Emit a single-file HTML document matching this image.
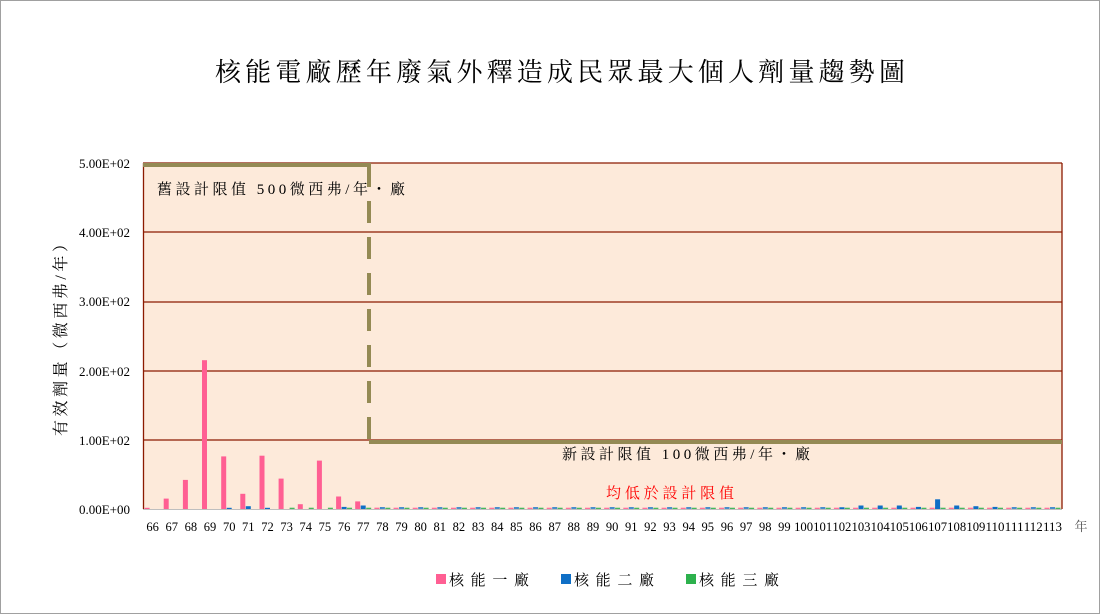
<!DOCTYPE html>
<html><head><meta charset="utf-8"><style>
html,body{margin:0;padding:0;background:#fff}
svg{display:block}
text{font-family:"Liberation Serif","Noto Serif CJK SC","Noto Serif CJK TC",serif}
</style></head><body>
<svg width="1100" height="614" viewBox="0 0 1100 614" xmlns="http://www.w3.org/2000/svg">
<rect x="0.5" y="0.5" width="1099" height="613" fill="#fff" stroke="#a0a0a0"/>
<text x="215" y="81" font-size="26" fill="#000" textLength="690" lengthAdjust="spacing">核能電廠歷年廢氣外釋造成民眾最大個人劑量趨勢圖</text>
<rect x="143" y="163" width="919" height="346" fill="#FDEADA"/>
<g stroke="#8B1A00" stroke-width="1.3">
<line x1="143" y1="440" x2="1062" y2="440"/>
<line x1="143" y1="371" x2="1062" y2="371"/>
<line x1="143" y1="302" x2="1062" y2="302"/>
<line x1="143" y1="232" x2="1062" y2="232"/>
<line x1="143" y1="163" x2="1062" y2="163"/>
<line x1="143.5" y1="163" x2="143.5" y2="509"/>
<line x1="1062" y1="163" x2="1062" y2="509"/>
</g>
<line x1="143" y1="509.5" x2="1062" y2="509.5" stroke="#bfbfbf"/>
<g fill="#FF5F93">
<rect x="144.6" y="507.8" width="5" height="1.2"/>
<rect x="163.7" y="498.6" width="5" height="10.4"/>
<rect x="182.9" y="479.9" width="5" height="29.1"/>
<rect x="202.0" y="360.2" width="5" height="148.8"/>
<rect x="221.2" y="456.4" width="5" height="52.6"/>
<rect x="240.3" y="493.8" width="5" height="15.2"/>
<rect x="259.5" y="455.7" width="5" height="53.3"/>
<rect x="278.6" y="478.6" width="5" height="30.4"/>
<rect x="297.8" y="504.2" width="5" height="4.8"/>
<rect x="316.9" y="460.6" width="5" height="48.4"/>
<rect x="336.1" y="496.5" width="5" height="12.5"/>
<rect x="355.2" y="501.4" width="5" height="7.6"/>
</g>
<line x1="379.9" y1="508.3" x2="1062" y2="508.3" stroke="#FF5F93" stroke-width="1.2" stroke-dasharray="5,14.146" transform="translate(-5.5,0)"/>
<g fill="#0F6FC6">
<rect x="226.7" y="507.8" width="5" height="1.2"/>
<rect x="245.8" y="506.2" width="5" height="2.8"/>
<rect x="265.0" y="507.8" width="5" height="1.2"/>
<rect x="341.6" y="506.9" width="5" height="2.1"/>
<rect x="360.7" y="505.5" width="5" height="3.5"/>
<rect x="839.4" y="507.6" width="5" height="1.4"/>
<rect x="858.5" y="505.5" width="5" height="3.5"/>
<rect x="877.7" y="505.5" width="5" height="3.5"/>
<rect x="896.8" y="505.5" width="5" height="3.5"/>
<rect x="915.9" y="506.9" width="5" height="2.1"/>
<rect x="935.1" y="499.3" width="5" height="9.7"/>
<rect x="954.2" y="505.5" width="5" height="3.5"/>
<rect x="973.4" y="506.2" width="5" height="2.8"/>
<rect x="992.5" y="506.9" width="5" height="2.1"/>
</g>
<line x1="379.9" y1="508" x2="1062" y2="508" stroke="#0F6FC6" stroke-width="1.6" stroke-dasharray="5,14.146"/>
<line x1="289.6" y1="508.3" x2="1062" y2="508.3" stroke="#2DB14D" stroke-width="1.2" stroke-dasharray="5,14.146"/>
<g stroke="#948A54" stroke-width="4" fill="none">
<line x1="143" y1="165" x2="371" y2="165"/>
<line x1="369" y1="165" x2="369" y2="443" stroke-dasharray="22,14"/>
<line x1="369" y1="442" x2="1062" y2="442"/>
</g>
<text x="157" y="194" font-size="15" fill="#000" textLength="248" lengthAdjust="spacing">舊設計限值 500微西弗/年・廠</text>
<text x="562" y="459" font-size="15" fill="#000" textLength="248" lengthAdjust="spacing">新設計限值 100微西弗/年・廠</text>
<text x="606" y="498" font-size="15" fill="#ff0000" textLength="128" lengthAdjust="spacing">均低於設計限值</text>
<g font-size="13" text-anchor="end" fill="#000">
<text x="130" y="168">5.00E+02</text>
<text x="130" y="237">4.00E+02</text>
<text x="130" y="306">3.00E+02</text>
<text x="130" y="376">2.00E+02</text>
<text x="130" y="445">1.00E+02</text>
<text x="130" y="514">0.00E+00</text>
</g>
<text transform="translate(66,336) rotate(-90)" font-size="16" text-anchor="middle" fill="#000" textLength="200" lengthAdjust="spacing">有效劑量（微西弗/年）</text>
<g font-size="12.5" text-anchor="middle" fill="#000">
<text x="152.6" y="531">66</text><text x="171.7" y="531">67</text><text x="190.9" y="531">68</text><text x="210.0" y="531">69</text><text x="229.2" y="531">70</text><text x="248.3" y="531">71</text><text x="267.5" y="531">72</text><text x="286.6" y="531">73</text><text x="305.8" y="531">74</text><text x="324.9" y="531">75</text><text x="344.1" y="531">76</text><text x="363.2" y="531">77</text><text x="382.4" y="531">78</text><text x="401.5" y="531">79</text><text x="420.6" y="531">80</text><text x="439.8" y="531">81</text><text x="458.9" y="531">82</text><text x="478.1" y="531">83</text><text x="497.2" y="531">84</text><text x="516.4" y="531">85</text><text x="535.5" y="531">86</text><text x="554.7" y="531">87</text><text x="573.8" y="531">88</text><text x="593.0" y="531">89</text><text x="612.1" y="531">90</text><text x="631.3" y="531">91</text><text x="650.4" y="531">92</text><text x="669.5" y="531">93</text><text x="688.7" y="531">94</text><text x="707.8" y="531">95</text><text x="727.0" y="531">96</text><text x="746.1" y="531">97</text><text x="765.3" y="531">98</text><text x="784.4" y="531">99</text>
<text x="803.6" y="531" textLength="19" lengthAdjust="spacingAndGlyphs">100</text><text x="822.7" y="531" textLength="19" lengthAdjust="spacingAndGlyphs">101</text><text x="841.9" y="531" textLength="19" lengthAdjust="spacingAndGlyphs">102</text><text x="861.0" y="531" textLength="19" lengthAdjust="spacingAndGlyphs">103</text><text x="880.2" y="531" textLength="19" lengthAdjust="spacingAndGlyphs">104</text><text x="899.3" y="531" textLength="19" lengthAdjust="spacingAndGlyphs">105</text><text x="918.4" y="531" textLength="19" lengthAdjust="spacingAndGlyphs">106</text><text x="937.6" y="531" textLength="19" lengthAdjust="spacingAndGlyphs">107</text><text x="956.7" y="531" textLength="19" lengthAdjust="spacingAndGlyphs">108</text><text x="975.9" y="531" textLength="19" lengthAdjust="spacingAndGlyphs">109</text><text x="995.0" y="531" textLength="19" lengthAdjust="spacingAndGlyphs">110</text><text x="1014.2" y="531" textLength="19" lengthAdjust="spacingAndGlyphs">111</text><text x="1033.3" y="531" textLength="19" lengthAdjust="spacingAndGlyphs">112</text><text x="1052.5" y="531" textLength="19" lengthAdjust="spacingAndGlyphs">113</text>
</g>
<text x="1081" y="531" font-size="13" text-anchor="middle" fill="#555">年</text>
<g font-size="15" fill="#000">
<rect x="436" y="574" width="10" height="10" fill="#FF5F93"/><text x="449" y="585" textLength="80" lengthAdjust="spacing">核能一廠</text>
<rect x="561" y="574" width="10" height="10" fill="#0F6FC6"/><text x="574" y="585" textLength="80" lengthAdjust="spacing">核能二廠</text>
<rect x="686" y="574" width="10" height="10" fill="#2DB14D"/><text x="699" y="585" textLength="80" lengthAdjust="spacing">核能三廠</text>
</g>
</svg>
</body></html>
